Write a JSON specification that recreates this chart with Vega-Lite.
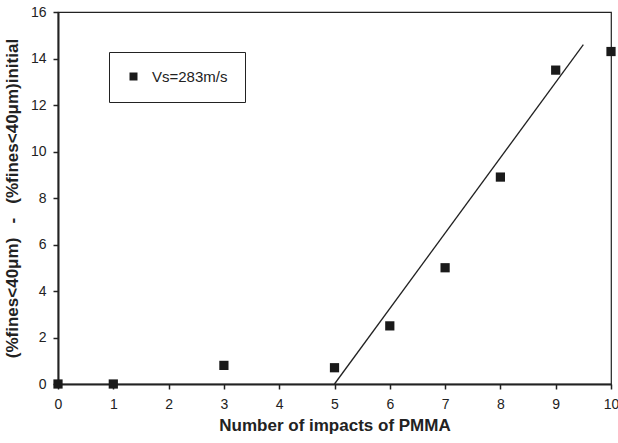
{
  "$schema": "https://vega.github.io/schema/vega-lite/v6.json",
  "autosize": "none",
  "width": 553,
  "height": 372,
  "padding": {"left": 58, "top": 12, "right": 7, "bottom": 59},
  "background": "white",
  "config": {
    "font": "Liberation Sans",
    "view": {"stroke": "#222", "strokeWidth": 1.2},
    "axis": {
      "grid": false,
      "domainColor": "#222",
      "domainWidth": 2,
      "tickColor": "#222",
      "tickWidth": 1.5,
      "tickSize": 5,
      "labelColor": "#222",
      "labelFontSize": 14,
      "labelFont": "Liberation Sans",
      "labelOverlap": false,
      "labelFlush": false,
      "titleColor": "#222",
      "titleFont": "Liberation Sans",
      "titleFontWeight": "bold",
      "titleFontSize": 17
    }
  },
  "datasets": {
    "pts": [
      {"impacts": 0, "fines": 0, "series": "Vs=283m/s"},
      {"impacts": 1, "fines": 0, "series": "Vs=283m/s"},
      {"impacts": 3, "fines": 0.8, "series": "Vs=283m/s"},
      {"impacts": 5, "fines": 0.7, "series": "Vs=283m/s"},
      {"impacts": 6, "fines": 2.5, "series": "Vs=283m/s"},
      {"impacts": 7, "fines": 5.0, "series": "Vs=283m/s"},
      {"impacts": 8, "fines": 8.9, "series": "Vs=283m/s"},
      {"impacts": 9, "fines": 13.5, "series": "Vs=283m/s"},
      {"impacts": 10, "fines": 14.3, "series": "Vs=283m/s"}
    ],
    "fit": [
      {"impacts": 5, "fines": 0},
      {"impacts": 9.5, "fines": 14.6}
    ]
  },
  "layer": [
    {
      "data": {"name": "fit"},
      "mark": {"type": "line", "color": "#222", "strokeWidth": 1.3},
      "encoding": {
        "x": {"field": "impacts", "type": "quantitative"},
        "y": {"field": "fines", "type": "quantitative"}
      }
    },
    {
      "data": {"name": "pts"},
      "mark": {"type": "point", "shape": "square", "filled": true, "size": 85, "opacity": 1, "clip": false},
      "encoding": {
        "x": {
          "field": "impacts", "type": "quantitative",
          "scale": {"domain": [0, 10], "nice": false, "zero": false},
          "axis": {"values": [0,1,2,3,4,5,6,7,8,9,10], "labelPadding": 8, "title": "Number of impacts of PMMA", "titlePadding": 6}
        },
        "y": {
          "field": "fines", "type": "quantitative",
          "scale": {"domain": [0, 16], "nice": false},
          "axis": {"values": [0,2,4,6,8,10,12,14,16], "labelPadding": 7, "title": "(%fines<40μm)\u00a0\u00a0\u00a0-\u00a0\u00a0\u00a0(%fines<40μm)initial", "titlePadding": 9}
        },
        "color": {
          "field": "series", "type": "nominal",
          "scale": {"range": ["#1a1a1a"]},
          "legend": {
            "title": null,
            "orient": "none",
            "legendX": 51,
            "legendY": 40,
            "strokeColor": "#222",
            "fillColor": "white",
            "padding": 17,
            "symbolType": "square",
            "symbolSize": 64,
            "symbolStrokeWidth": 0,
            "labelFontSize": 15,
            "labelColor": "#222",
            "labelOffset": 11,
            "labelFont": "Liberation Sans"
          }
        }
      }
    }
  ]
}
